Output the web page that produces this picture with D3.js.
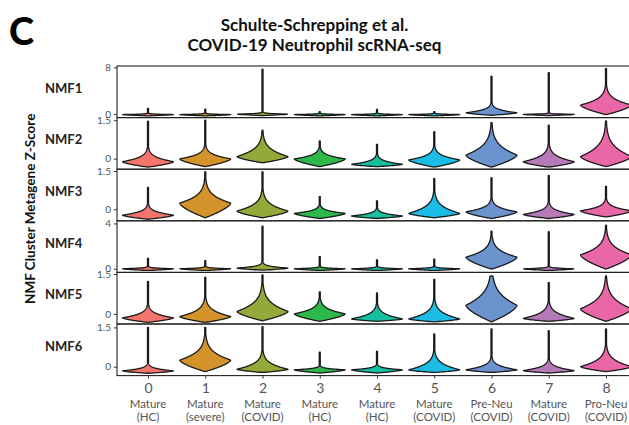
<!DOCTYPE html>
<html>
<head>
<meta charset="utf-8">
<script src="https://cdn.jsdelivr.net/npm/d3@7/dist/d3.min.js"></script>
<style>
  html, body { margin: 0; padding: 0; background: #fff; }
  svg { display: block; }
  text { font-family: Lato, "Open Sans", sans-serif; }
</style>
</head>
<body>
<svg id="chart" width="629" height="425"></svg>
<script>
// Clusters along the x axis
const clusters = ["0", "1", "2", "3", "4", "5", "6", "7", "8"];
const cellType = ["Mature", "Mature", "Mature", "Mature", "Mature", "Mature", "Pre-Neu", "Mature", "Pro-Neu"];
const condition = ["(HC)", "(severe)", "(COVID)", "(HC)", "(HC)", "(COVID)", "(COVID)", "(COVID)", "(COVID)"];
const clusterColors = ["#F3756C", "#D4942B", "#93AA3A", "#2DB84C", "#16BFA0", "#1BBDE6", "#6B94CF", "#B67AB8", "#E967A7"];

// NMF metagene programs, one panel each
const programs = ["NMF1", "NMF2", "NMF3", "NMF4", "NMF5", "NMF6"];
const tickTop = [8, 1.5, 1.5, 4, 1.5, 1.5];
const yDomains = [[-0.6, 8.22], [-0.41, 1.6], [-0.45, 1.57], [-0.32, 4.23], [-0.38, 1.56], [-0.34, 1.63]];

// Violin summaries per program (rows) and cluster (columns):
// lowest score, score at the widest point, score where the body narrows to a tail, highest score
const violinMin = [
  [-0.30, -0.30, -0.25, -0.30, -0.30, -0.30, -0.20, -0.25, -0.10],
  [-0.33, -0.31, -0.16, -0.31, -0.31, -0.33, -0.33, -0.33, -0.31],
  [-0.39, -0.33, -0.33, -0.36, -0.36, -0.33, -0.36, -0.36, -0.30],
  [-0.15, -0.15, -0.12, -0.15, -0.15, -0.15, -0.03, -0.15, -0.03],
  [-0.32, -0.32, -0.26, -0.28, -0.28, -0.30, -0.30, -0.28, -0.28],
  [-0.25, -0.19, -0.22, -0.24, -0.24, -0.22, -0.22, -0.24, -0.19]
];
const violinMode = [
  [-0.08, -0.08, 0.00, -0.08, -0.08, -0.08, 0.22, -0.05, 1.54],
  [-0.12, -0.01, 0.08, -0.01, -0.22, -0.05, 0.14, -0.12, 0.08],
  [-0.23, 0.24, -0.07, -0.16, -0.26, -0.16, -0.10, -0.20, -0.06],
  [0.00, 0.00, 0.06, 0.00, 0.00, 0.00, 1.02, 0.00, 1.22],
  [-0.15, -0.10, 0.09, 0.00, -0.19, -0.19, 0.32, -0.17, 0.19],
  [-0.16, 0.25, -0.10, -0.12, -0.12, -0.12, -0.12, -0.15, 0.00]
];
const violinNeck = [
  [0.10, 0.10, 0.25, 0.10, 0.10, 0.10, 1.50, 0.15, 4.10],
  [0.31, 0.40, 0.79, 0.34, 0.08, 0.36, 1.05, 0.40, 1.05],
  [0.10, 0.97, 0.57, 0.10, -0.03, 0.50, 0.30, 0.17, 0.30],
  [0.15, 0.15, 0.44, 0.15, 0.15, 0.15, 2.48, 0.15, 2.97],
  [0.23, 0.45, 0.90, 0.45, 0.25, 0.38, 1.40, 0.32, 1.09],
  [0.06, 1.00, 0.44, 0.00, 0.04, 0.44, 0.25, 0.19, 0.63]
];
const violinMax = [
  [0.98, 0.85, 7.70, 0.40, 0.80, 0.40, 6.50, 7.10, 7.80],
  [1.46, 1.50, 1.11, 0.69, 0.56, 1.05, 1.41, 1.31, 1.47],
  [0.86, 1.47, 1.47, 0.50, 0.33, 1.21, 1.24, 1.33, 0.90],
  [0.93, 0.73, 3.76, 1.08, 0.79, 0.85, 3.32, 3.27, 3.85],
  [1.22, 1.38, 1.47, 0.83, 0.79, 1.30, 1.43, 1.18, 1.43],
  [1.50, 1.50, 1.53, 0.56, 0.59, 1.25, 1.44, 1.38, 1.44]
];

const svg = d3.select("#chart");
const W = 629;

const panelLeft = 117, panelRight = 640;
const panelTop = 66, panelH = 51.6;

const x = d3.scalePoint().domain(clusters).range([148, 606]);
const halfW = x.step() * 0.445;

// Panel letter and title
svg.append("text").attr("x", 9).attr("y", 45)
  .attr("font-size", 38).attr("font-weight", 900).attr("fill", "#000").text("C");
svg.append("text").attr("x", W / 2).attr("y", 31).attr("text-anchor", "middle")
  .attr("font-size", 17).attr("font-weight", 700).attr("fill", "#111").text("Schulte-Schrepping et al.");
svg.append("text").attr("x", W / 2).attr("y", 50.5).attr("text-anchor", "middle")
  .attr("font-size", 17).attr("font-weight", 700).attr("fill", "#111").text("COVID-19 Neutrophil scRNA-seq");

// Shared y-axis title
svg.append("text")
  .attr("transform", `translate(35, ${panelTop + panelH * 3 - 12}) rotate(-90)`)
  .attr("text-anchor", "middle").attr("font-size", 13.5).attr("font-weight", 700).attr("fill", "#111")
  .text("NMF Cluster Metagene Z-Score");

// Width profile of one violin, in pixel space
function violinPath(cx, y, lo, mode, neck, hi) {
  const pLo = y(lo), pMode = y(mode), pNeck = y(neck), pHi = y(hi);
  const pts = [];
  const n = 220;
  for (let i = 0; i <= n; i++) {
    const py = pLo + (pHi - pLo) * i / n;
    let w;
    if (py >= pMode) {
      const t = (py - pMode) / Math.max(pLo - pMode, 0.01);
      w = halfW * Math.max(0, 1 - Math.pow(Math.min(t, 1), 1.5));
    } else {
      const u = (pMode - py) / Math.max(pMode - pNeck, 0.5);
      w = halfW * Math.exp(-2.8 * Math.pow(u, 1.1));
      w = Math.max(w, 0.5);
    }
    if (i === n) w = 0;
    pts.push([py, w]);
  }
  const area = d3.area()
    .y(d => d[0])
    .x0(d => cx - d[1])
    .x1(d => cx + d[1])
    .curve(d3.curveLinear);
  return area(pts);
}

programs.forEach((prog, r) => {
  const top = panelTop + r * panelH;
  const bottom = top + panelH;
  const y = d3.scaleLinear().domain(yDomains[r]).range([bottom, top]);
  const g = svg.append("g");

  // violins
  clusters.forEach((c, i) => {
    g.append("path")
      .attr("d", violinPath(x(c), y, violinMin[r][i], violinMode[r][i], violinNeck[r][i], violinMax[r][i]))
      .attr("fill", clusterColors[i])
      .attr("stroke", "#1a1a1a")
      .attr("stroke-width", 1.3)
      .attr("stroke-linejoin", "round");
  });

  // panel frame
  g.append("rect")
    .attr("x", panelLeft).attr("y", top)
    .attr("width", panelRight - panelLeft).attr("height", panelH)
    .attr("fill", "none").attr("stroke", "#222").attr("stroke-width", 1.1);

  // y axis
  const axis = d3.axisLeft(y).tickValues([0, tickTop[r]]).tickSize(3).tickPadding(3)
    .tickFormat(d => d);
  const ga = g.append("g").attr("transform", `translate(${panelLeft},0)`).call(axis);
  ga.select(".domain").remove();
  ga.selectAll(".tick line").attr("stroke", "#333");
  ga.selectAll(".tick text").attr("font-family", "Lato, sans-serif").attr("font-size", 10).attr("fill", "#555");

  // program label
  svg.append("text").attr("x", 45).attr("y", top + panelH / 2 + 1)
    .attr("font-size", 13).attr("font-weight", 700).attr("fill", "#222").text(prog);
});

// x axis
const axisY = panelTop + panelH * programs.length;
const xa = svg.append("g").attr("transform", `translate(0,${axisY})`)
  .call(d3.axisBottom(x).tickSize(3).tickPadding(4));
xa.select(".domain").remove();
xa.selectAll(".tick line").attr("stroke", "#333");
xa.selectAll(".tick text").attr("font-family", "Lato, sans-serif").attr("font-size", 14).attr("fill", "#555");

clusters.forEach((c, i) => {
  svg.append("text").attr("x", x(c)).attr("y", axisY + 32).attr("text-anchor", "middle")
    .attr("font-size", 11.5).attr("fill", "#555").text(cellType[i]);
  svg.append("text").attr("x", x(c)).attr("y", axisY + 45).attr("text-anchor", "middle")
    .attr("font-size", 11.5).attr("fill", "#555").text(condition[i]);
});
</script>
</body>
</html>
